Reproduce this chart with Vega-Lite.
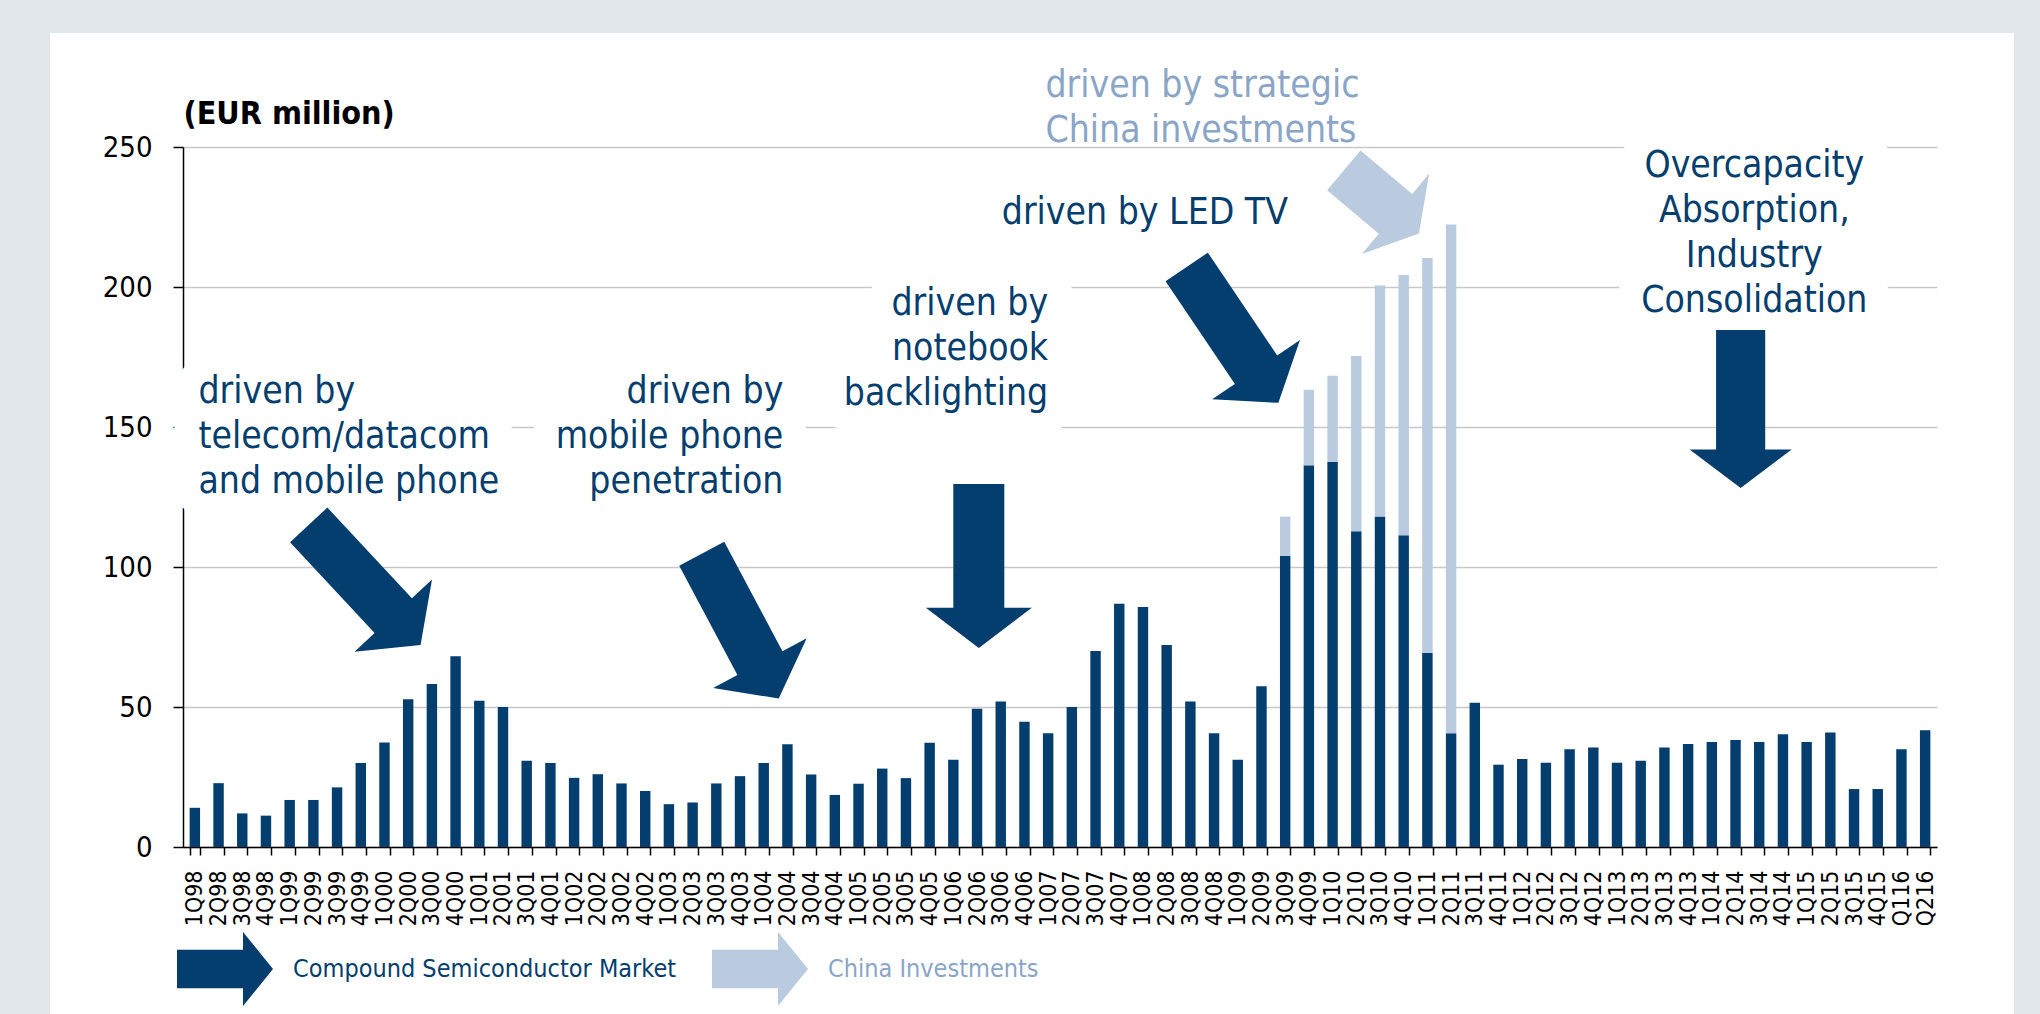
{
  "$schema": "https://vega.github.io/schema/vega-lite/v6.json",
  "width": 1964,
  "height": 981,
  "autosize": {"type": "none"},
  "padding": {"left": 50, "top": 33, "right": 26, "bottom": 0},
  "background": "#E1E7EA",
  "config": {"view": {"fill": "white", "stroke": null}, "font": "DejaVu Sans Condensed"},
  "layer": [
    {
      "data": {"values": [{"quarter": "1Q98", "value": 158.6, "note": "driven by\ntelecom/datacom\nand mobile phone"}]},
      "mark": {"type": "text", "align": "left", "baseline": "alphabetic", "fontSize": 37, "lineHeight": 45, "lineBreak": "\n", "fill": "white", "stroke": "white", "strokeWidth": 50, "strokeJoin": "round"},
      "encoding": {"x": {"field": "quarter", "type": "nominal", "bandPosition": 0.84}, "y": {"field": "value", "type": "quantitative"}, "text": {"field": "note"}}
    },
    {
      "data": {"values": [{"quarter": "2Q04", "value": 158.6, "note": "driven by\nmobile phone\npenetration"}]},
      "mark": {"type": "text", "align": "right", "baseline": "alphabetic", "fontSize": 37, "lineHeight": 45, "lineBreak": "\n", "fill": "white", "stroke": "white", "strokeWidth": 50, "strokeJoin": "round"},
      "encoding": {"x": {"field": "quarter", "type": "nominal", "bandPosition": 0.11}, "y": {"field": "value", "type": "quantitative"}, "text": {"field": "note"}}
    },
    {
      "data": {"values": [{"quarter": "1Q07", "value": 190, "note": "driven by\nnotebook\nbacklighting"}]},
      "mark": {"type": "text", "align": "right", "baseline": "alphabetic", "fontSize": 37, "lineHeight": 45, "lineBreak": "\n", "fill": "white", "stroke": "white", "strokeWidth": 50, "strokeJoin": "round"},
      "encoding": {"x": {"field": "quarter", "type": "nominal", "bandPosition": 0.5}, "y": {"field": "value", "type": "quantitative"}, "text": {"field": "note"}}
    },
    {
      "data": {"values": [{"quarter": "3Q14", "value": 239.3, "note": "Overcapacity\nAbsorption,\nIndustry\nConsolidation"}]},
      "mark": {"type": "text", "align": "center", "baseline": "alphabetic", "fontSize": 37, "lineHeight": 45, "lineBreak": "\n", "fill": "white", "stroke": "white", "strokeWidth": 50, "strokeJoin": "round"},
      "encoding": {"x": {"field": "quarter", "type": "nominal", "bandPosition": 0.03}, "y": {"field": "value", "type": "quantitative"}, "text": {"field": "note"}}
    },
    {
      "data": {"values": [
        {"quarter": "1Q98", "series": "Compound Semiconductor Market", "value": 14},
        {"quarter": "2Q98", "series": "Compound Semiconductor Market", "value": 22.8},
        {"quarter": "3Q98", "series": "Compound Semiconductor Market", "value": 12},
        {"quarter": "4Q98", "series": "Compound Semiconductor Market", "value": 11.2},
        {"quarter": "1Q99", "series": "Compound Semiconductor Market", "value": 16.8},
        {"quarter": "2Q99", "series": "Compound Semiconductor Market", "value": 16.8},
        {"quarter": "3Q99", "series": "Compound Semiconductor Market", "value": 21.3},
        {"quarter": "4Q99", "series": "Compound Semiconductor Market", "value": 30},
        {"quarter": "1Q00", "series": "Compound Semiconductor Market", "value": 37.3},
        {"quarter": "2Q00", "series": "Compound Semiconductor Market", "value": 52.8},
        {"quarter": "3Q00", "series": "Compound Semiconductor Market", "value": 58.2},
        {"quarter": "4Q00", "series": "Compound Semiconductor Market", "value": 68.1},
        {"quarter": "1Q01", "series": "Compound Semiconductor Market", "value": 52.2},
        {"quarter": "2Q01", "series": "Compound Semiconductor Market", "value": 50},
        {"quarter": "3Q01", "series": "Compound Semiconductor Market", "value": 30.8},
        {"quarter": "4Q01", "series": "Compound Semiconductor Market", "value": 30},
        {"quarter": "1Q02", "series": "Compound Semiconductor Market", "value": 24.7},
        {"quarter": "2Q02", "series": "Compound Semiconductor Market", "value": 26},
        {"quarter": "3Q02", "series": "Compound Semiconductor Market", "value": 22.7},
        {"quarter": "4Q02", "series": "Compound Semiconductor Market", "value": 20},
        {"quarter": "1Q03", "series": "Compound Semiconductor Market", "value": 15.3},
        {"quarter": "2Q03", "series": "Compound Semiconductor Market", "value": 15.9},
        {"quarter": "3Q03", "series": "Compound Semiconductor Market", "value": 22.7},
        {"quarter": "4Q03", "series": "Compound Semiconductor Market", "value": 25.3},
        {"quarter": "1Q04", "series": "Compound Semiconductor Market", "value": 30},
        {"quarter": "2Q04", "series": "Compound Semiconductor Market", "value": 36.7},
        {"quarter": "3Q04", "series": "Compound Semiconductor Market", "value": 25.9},
        {"quarter": "4Q04", "series": "Compound Semiconductor Market", "value": 18.6},
        {"quarter": "1Q05", "series": "Compound Semiconductor Market", "value": 22.6},
        {"quarter": "2Q05", "series": "Compound Semiconductor Market", "value": 28},
        {"quarter": "3Q05", "series": "Compound Semiconductor Market", "value": 24.6},
        {"quarter": "4Q05", "series": "Compound Semiconductor Market", "value": 37.2},
        {"quarter": "1Q06", "series": "Compound Semiconductor Market", "value": 31.2},
        {"quarter": "2Q06", "series": "Compound Semiconductor Market", "value": 49.4},
        {"quarter": "3Q06", "series": "Compound Semiconductor Market", "value": 52},
        {"quarter": "4Q06", "series": "Compound Semiconductor Market", "value": 44.7},
        {"quarter": "1Q07", "series": "Compound Semiconductor Market", "value": 40.6},
        {"quarter": "2Q07", "series": "Compound Semiconductor Market", "value": 50},
        {"quarter": "3Q07", "series": "Compound Semiconductor Market", "value": 70},
        {"quarter": "4Q07", "series": "Compound Semiconductor Market", "value": 86.9},
        {"quarter": "1Q08", "series": "Compound Semiconductor Market", "value": 85.7},
        {"quarter": "2Q08", "series": "Compound Semiconductor Market", "value": 72.1},
        {"quarter": "3Q08", "series": "Compound Semiconductor Market", "value": 52},
        {"quarter": "4Q08", "series": "Compound Semiconductor Market", "value": 40.6},
        {"quarter": "1Q09", "series": "Compound Semiconductor Market", "value": 31.2},
        {"quarter": "2Q09", "series": "Compound Semiconductor Market", "value": 57.4},
        {"quarter": "3Q09", "series": "Compound Semiconductor Market", "value": 104},
        {"quarter": "4Q09", "series": "Compound Semiconductor Market", "value": 136.3},
        {"quarter": "1Q10", "series": "Compound Semiconductor Market", "value": 137.6},
        {"quarter": "2Q10", "series": "Compound Semiconductor Market", "value": 112.8},
        {"quarter": "3Q10", "series": "Compound Semiconductor Market", "value": 118},
        {"quarter": "4Q10", "series": "Compound Semiconductor Market", "value": 111.3},
        {"quarter": "1Q11", "series": "Compound Semiconductor Market", "value": 69.4},
        {"quarter": "2Q11", "series": "Compound Semiconductor Market", "value": 40.6},
        {"quarter": "3Q11", "series": "Compound Semiconductor Market", "value": 51.5},
        {"quarter": "4Q11", "series": "Compound Semiconductor Market", "value": 29.4},
        {"quarter": "1Q12", "series": "Compound Semiconductor Market", "value": 31.4},
        {"quarter": "2Q12", "series": "Compound Semiconductor Market", "value": 30.1},
        {"quarter": "3Q12", "series": "Compound Semiconductor Market", "value": 34.9},
        {"quarter": "4Q12", "series": "Compound Semiconductor Market", "value": 35.5},
        {"quarter": "1Q13", "series": "Compound Semiconductor Market", "value": 30.1},
        {"quarter": "2Q13", "series": "Compound Semiconductor Market", "value": 30.8},
        {"quarter": "3Q13", "series": "Compound Semiconductor Market", "value": 35.5},
        {"quarter": "4Q13", "series": "Compound Semiconductor Market", "value": 36.8},
        {"quarter": "1Q14", "series": "Compound Semiconductor Market", "value": 37.5},
        {"quarter": "2Q14", "series": "Compound Semiconductor Market", "value": 38.2},
        {"quarter": "3Q14", "series": "Compound Semiconductor Market", "value": 37.5},
        {"quarter": "4Q14", "series": "Compound Semiconductor Market", "value": 40.3},
        {"quarter": "1Q15", "series": "Compound Semiconductor Market", "value": 37.5},
        {"quarter": "2Q15", "series": "Compound Semiconductor Market", "value": 40.9},
        {"quarter": "3Q15", "series": "Compound Semiconductor Market", "value": 20.7},
        {"quarter": "4Q15", "series": "Compound Semiconductor Market", "value": 20.7},
        {"quarter": "Q116", "series": "Compound Semiconductor Market", "value": 34.9},
        {"quarter": "Q216", "series": "Compound Semiconductor Market", "value": 41.7},
        {"quarter": "3Q09", "series": "China Investments", "value": 14},
        {"quarter": "4Q09", "series": "China Investments", "value": 27},
        {"quarter": "1Q10", "series": "China Investments", "value": 30.7},
        {"quarter": "2Q10", "series": "China Investments", "value": 62.6},
        {"quarter": "3Q10", "series": "China Investments", "value": 82.5},
        {"quarter": "4Q10", "series": "China Investments", "value": 93},
        {"quarter": "1Q11", "series": "China Investments", "value": 141},
        {"quarter": "2Q11", "series": "China Investments", "value": 181.7}
      ]},
      "mark": {"type": "bar"},
      "encoding": {
        "x": {
          "field": "quarter", "type": "nominal",
          "scale": {
            "domain": ["1Q98","2Q98","3Q98","4Q98","1Q99","2Q99","3Q99","4Q99","1Q00","2Q00","3Q00","4Q00","1Q01","2Q01","3Q01","4Q01","1Q02","2Q02","3Q02","4Q02","1Q03","2Q03","3Q03","4Q03","1Q04","2Q04","3Q04","4Q04","1Q05","2Q05","3Q05","4Q05","1Q06","2Q06","3Q06","4Q06","1Q07","2Q07","3Q07","4Q07","1Q08","2Q08","3Q08","4Q08","1Q09","2Q09","3Q09","4Q09","1Q10","2Q10","3Q10","4Q10","1Q11","2Q11","3Q11","4Q11","1Q12","2Q12","3Q12","4Q12","1Q13","2Q13","3Q13","4Q13","1Q14","2Q14","3Q14","4Q14","1Q15","2Q15","3Q15","4Q15","Q116","Q216"],
            "range": [133, 1887], "paddingInner": 0.56, "paddingOuter": 0.28
          },
          "axis": {
            "title": null, "orient": "bottom", "offset": -167, "labelAngle": 270, "labelAlign": "right", "labelBaseline": "middle",
            "labelFontSize": 23, "labelColor": "black", "labelPadding": 15, "tickBand": "extent", "tickSize": 8,
            "tickColor": "black", "tickWidth": 1.5, "domainColor": "black", "domainWidth": 1.5, "grid": false
          }
        },
        "y": {
          "field": "value", "type": "quantitative", "stack": "zero",
          "scale": {"domain": [0, 250], "range": [814, 114], "nice": false, "zero": true},
          "axis": {
            "title": "(EUR million)", "orient": "left", "offset": -133, "values": [0, 50, 100, 150, 200, 250],
            "labelFontSize": 29, "labelColor": "black", "labelPadding": 21, "tickSize": 10, "tickColor": "black", "tickWidth": 1.5,
            "domainColor": "black", "domainWidth": 1.5, "grid": true, "gridColor": "#C8C8C8", "gridWidth": 1.5,
            "titleAngle": 0, "titleAlign": "left", "titleBaseline": "alphabetic", "titleX": 0, "titleY": 90,
            "titleFontSize": 32, "titleFontWeight": "bold", "titleColor": "black"
          }
        },
        "color": {
          "field": "series", "type": "nominal",
          "scale": {"domain": ["Compound Semiconductor Market", "China Investments"], "range": ["#043E6E", "#BACBE0"]},
          "legend": {
            "orient": "none", "legendX": 127, "legendY": 888, "direction": "horizontal", "title": null,
            "symbolType": "M-1,-0.4L0.375,-0.4L0.375,-0.77L1,0L0.375,0.77L0.375,0.4L-1,0.4Z",
            "symbolSize": 9216, "symbolStrokeWidth": 0, "symbolOpacity": 1,
            "labelFontSize": 25, "labelOffset": 20, "columnPadding": 35, "padding": 0, "labelLimit": 600,
            "encode": {"labels": {"update": {"fill": {"signal": "datum.label === 'China Investments' ? '#8BA5C8' : '#043E6E'"}}}}
          }
        },
        "order": {"field": "series", "sort": "descending"}
      }
    },
    {
      "data": {"values": [{"quarter": "4Q99", "value": 93.6}]},
      "mark": {"type": "point", "shape": "M-0.311,-1L0.311,-1L0.311,0.512L0.646,0.512L0,1L-0.646,0.512L-0.311,0.512Z", "size": 26896, "angle": -43, "filled": true, "color": "#043E6E", "opacity": 1, "strokeWidth": 0},
      "encoding": {"x": {"field": "quarter", "type": "nominal", "bandPosition": 0.87}, "y": {"field": "value", "type": "quantitative"}}
    },
    {
      "data": {"values": [{"quarter": "4Q03", "value": 78.9}]},
      "mark": {"type": "point", "shape": "M-0.311,-1L0.311,-1L0.311,0.512L0.646,0.512L0,1L-0.646,0.512L-0.311,0.512Z", "size": 26896, "angle": -28, "filled": true, "color": "#043E6E", "opacity": 1, "strokeWidth": 0},
      "encoding": {"x": {"field": "quarter", "type": "nominal", "bandPosition": 0.52}, "y": {"field": "value", "type": "quantitative"}}
    },
    {
      "data": {"values": [{"quarter": "2Q06", "value": 100.4}]},
      "mark": {"type": "point", "shape": "M-0.311,-1L0.311,-1L0.311,0.512L0.646,0.512L0,1L-0.646,0.512L-0.311,0.512Z", "size": 26896, "angle": 0, "filled": true, "color": "#043E6E", "opacity": 1, "strokeWidth": 0},
      "encoding": {"x": {"field": "quarter", "type": "nominal", "bandPosition": 0.67}, "y": {"field": "value", "type": "quantitative"}}
    },
    {
      "data": {"values": [{"quarter": "1Q09", "value": 182.9}]},
      "mark": {"type": "point", "shape": "M-0.311,-1L0.311,-1L0.311,0.512L0.646,0.512L0,1L-0.646,0.512L-0.311,0.512Z", "size": 26896, "angle": -34, "filled": true, "color": "#043E6E", "opacity": 1, "strokeWidth": 0},
      "encoding": {"x": {"field": "quarter", "type": "nominal", "bandPosition": 0.0}, "y": {"field": "value", "type": "quantitative"}}
    },
    {
      "data": {"values": [{"quarter": "2Q14", "value": 156.4}]},
      "mark": {"type": "point", "shape": "M-0.311,-1L0.311,-1L0.311,0.512L0.646,0.512L0,1L-0.646,0.512L-0.311,0.512Z", "size": 24964, "angle": 0, "filled": true, "color": "#043E6E", "opacity": 1, "strokeWidth": 0},
      "encoding": {"x": {"field": "quarter", "type": "nominal", "bandPosition": 0.99}, "y": {"field": "value", "type": "quantitative"}}
    },
    {
      "data": {"values": [{"quarter": "3Q10", "value": 230.4}]},
      "mark": {"type": "point", "shape": "M-0.53,-1L0.53,-1L0.53,0.378L1.07,0.378L0,1L-1.07,0.378L-0.53,0.378Z", "size": 9604, "angle": -50, "filled": true, "color": "#BACBE0", "opacity": 1, "strokeWidth": 0},
      "encoding": {"x": {"field": "quarter", "type": "nominal", "bandPosition": 0.63}, "y": {"field": "value", "type": "quantitative"}}
    },
    {
      "data": {"values": [{"quarter": "1Q98", "value": 158.6, "note": "driven by\ntelecom/datacom\nand mobile phone"}]},
      "mark": {"type": "text", "align": "left", "baseline": "alphabetic", "fontSize": 37, "lineHeight": 45, "lineBreak": "\n", "fill": "#043E6E"},
      "encoding": {"x": {"field": "quarter", "type": "nominal", "bandPosition": 0.84}, "y": {"field": "value", "type": "quantitative"}, "text": {"field": "note"}}
    },
    {
      "data": {"values": [{"quarter": "2Q04", "value": 158.6, "note": "driven by\nmobile phone\npenetration"}]},
      "mark": {"type": "text", "align": "right", "baseline": "alphabetic", "fontSize": 37, "lineHeight": 45, "lineBreak": "\n", "fill": "#043E6E"},
      "encoding": {"x": {"field": "quarter", "type": "nominal", "bandPosition": 0.11}, "y": {"field": "value", "type": "quantitative"}, "text": {"field": "note"}}
    },
    {
      "data": {"values": [{"quarter": "1Q07", "value": 190, "note": "driven by\nnotebook\nbacklighting"}]},
      "mark": {"type": "text", "align": "right", "baseline": "alphabetic", "fontSize": 37, "lineHeight": 45, "lineBreak": "\n", "fill": "#043E6E"},
      "encoding": {"x": {"field": "quarter", "type": "nominal", "bandPosition": 0.5}, "y": {"field": "value", "type": "quantitative"}, "text": {"field": "note"}}
    },
    {
      "data": {"values": [{"quarter": "3Q06", "value": 222.5, "note": "driven by LED TV"}]},
      "mark": {"type": "text", "align": "left", "baseline": "alphabetic", "fontSize": 37, "fill": "#043E6E"},
      "encoding": {"x": {"field": "quarter", "type": "nominal", "bandPosition": 0.6}, "y": {"field": "value", "type": "quantitative"}, "text": {"field": "note"}}
    },
    {
      "data": {"values": [{"quarter": "1Q07", "value": 267.9, "note": "driven by strategic\nChina investments"}]},
      "mark": {"type": "text", "align": "left", "baseline": "alphabetic", "fontSize": 37, "lineHeight": 45, "lineBreak": "\n", "fill": "#8BA5C8"},
      "encoding": {"x": {"field": "quarter", "type": "nominal", "bandPosition": 0.24}, "y": {"field": "value", "type": "quantitative"}, "text": {"field": "note"}}
    },
    {
      "data": {"values": [{"quarter": "3Q14", "value": 239.3, "note": "Overcapacity\nAbsorption,\nIndustry\nConsolidation"}]},
      "mark": {"type": "text", "align": "center", "baseline": "alphabetic", "fontSize": 37, "lineHeight": 45, "lineBreak": "\n", "fill": "#043E6E"},
      "encoding": {"x": {"field": "quarter", "type": "nominal", "bandPosition": 0.03}, "y": {"field": "value", "type": "quantitative"}, "text": {"field": "note"}}
    }
  ]
}
